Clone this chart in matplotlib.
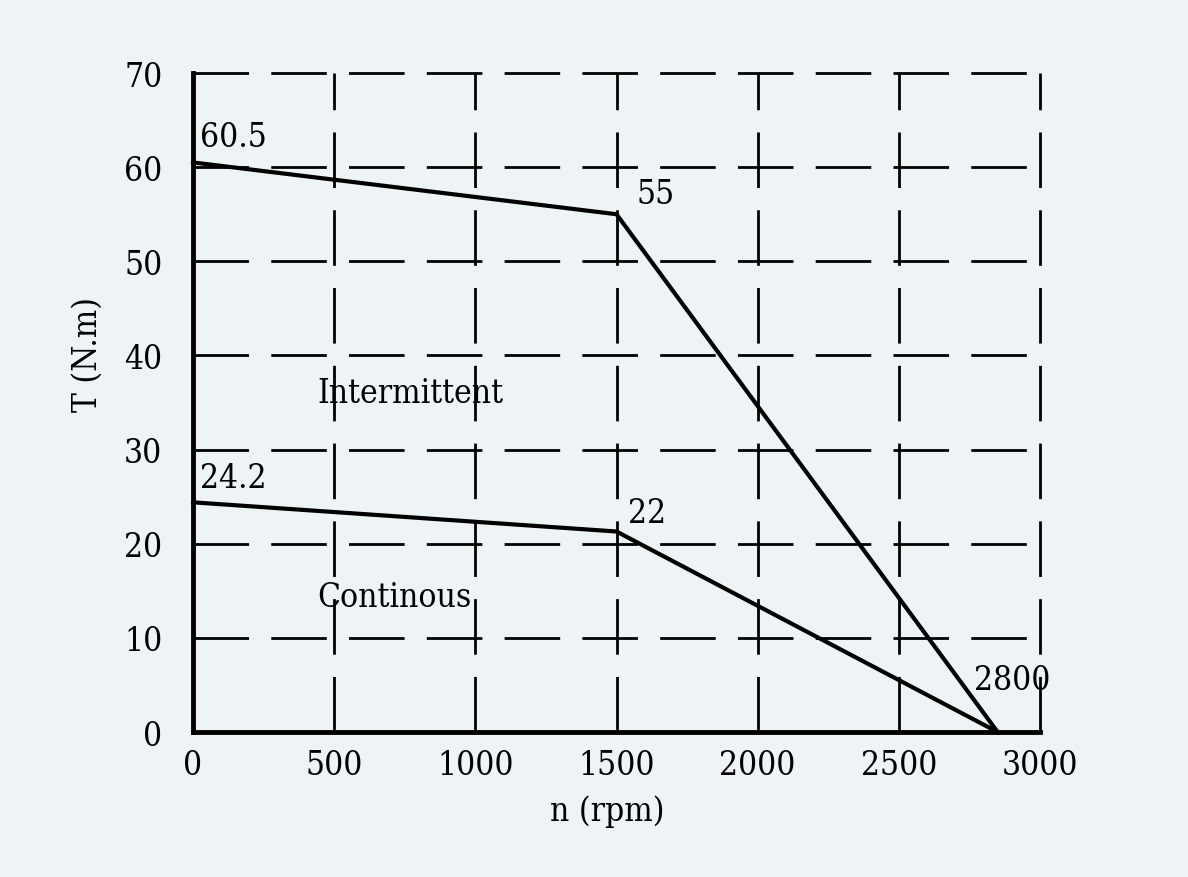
import matplotlib
matplotlib.use('Agg')
from matplotlib import pyplot as plt

### Data ###
speed_int = [0, 1500, 2850]
torque_int = [60.5, 55, 0]
speed_cont = [0, 1500, 2850]
torque_cont = [24.4, 21.3, 0]
x_ticks = [0, 500, 1000, 1500, 2000, 2500, 3000]
y_ticks = [0, 10, 20, 30, 40, 50, 60, 70]
# (x, y, text) point labels
point_labels = [(25, 61.5, '60.5'), (1570, 55.5, '55'), (25, 25.3, '24.2'),
                (1540, 21.6, '22'), (2765, 3.8, '2800')]
##################

BG = '#eef3f6'
FS = 24
FONT = dict(family='DejaVu Serif', stretch='condensed')

fig = plt.figure(figsize=(11.88, 8.78), dpi=100, facecolor=BG)
ax = fig.add_axes([0.1625, 0.1651, 0.7129, 0.7506], facecolor=BG)

ax.set_xlim(0, 3000)
ax.set_ylim(0, 70)
ax.set_xticks(x_ticks)
ax.set_yticks(y_ticks)
ax.set_xticklabels([str(t) for t in x_ticks], fontsize=FS, **FONT)
ax.set_yticklabels([str(t) for t in y_ticks], fontsize=FS, **FONT)
ax.tick_params(axis='y', length=0, pad=22)
ax.tick_params(axis='x', length=0, pad=12)

ax.grid(True, color='black', lw=2, linestyle=(0, (20, 8)))
for gl in ax.get_xgridlines() + ax.get_ygridlines():
    gl.set_clip_on(False)
for s in ['top', 'right']:
    ax.spines[s].set_visible(False)
for s in ['left', 'bottom']:
    ax.spines[s].set_linewidth(3.5)
    ax.spines[s].set_zorder(5)

ax.plot(speed_int, torque_int, color='black', lw=3, zorder=4, clip_on=False)
ax.plot(speed_cont, torque_cont, color='black', lw=3, zorder=4, clip_on=False)

for x, y, t in point_labels:
    ax.text(x, y, t, fontsize=FS, va='bottom', ha='left', **FONT)
ax.text(440, 34.3, 'Intermittent', fontsize=FS, va='bottom', ha='left', **FONT)
ax.text(440, 12.6, 'Continous', fontsize=FS, va='bottom', ha='left', **FONT)

fig.text(607 / 1188, 1 - 812 / 878, 'n (rpm)', fontsize=FS, ha='center', va='center', **FONT)
fig.text(88 / 1188, 1 - 355 / 878, 'T (N.m)', fontsize=FS, ha='center', va='center',
         rotation=90, **FONT)

fig.savefig('out.png', dpi=100, facecolor=BG)
